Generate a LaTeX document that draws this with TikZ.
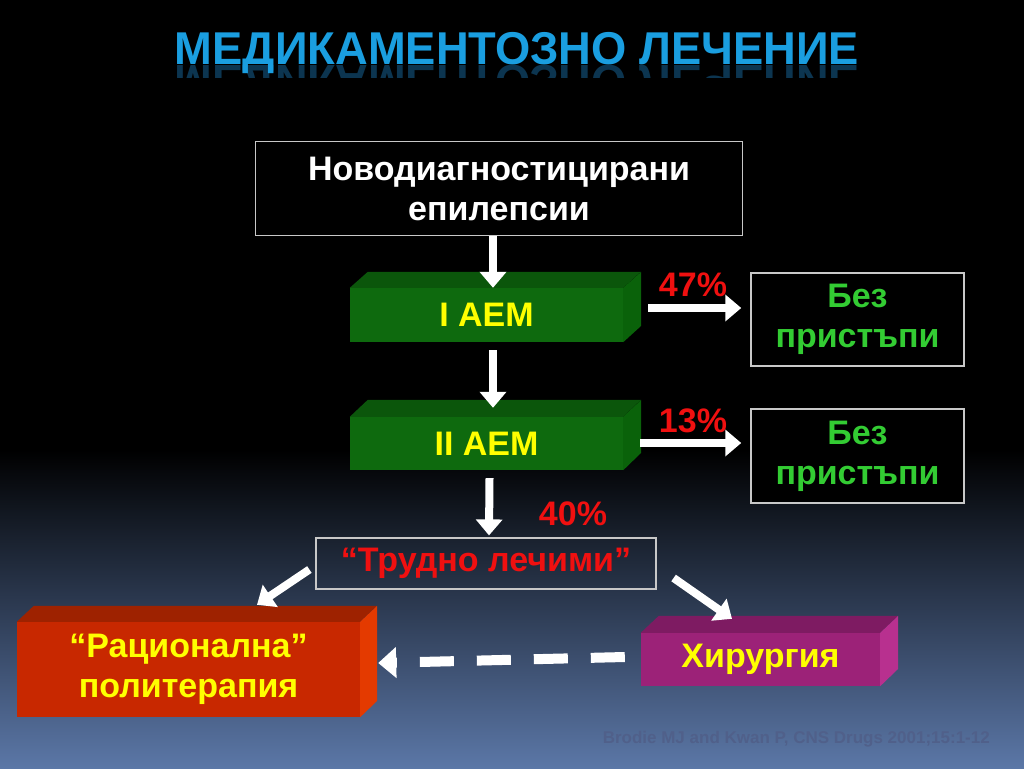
\documentclass[tikz,border=0pt]{standalone}
\usepackage{fontspec}
\setmainfont{Liberation Sans}
\newfontfamily\titlefont[FakeStretch=0.985]{Liberation Sans}
\usetikzlibrary{arrows.meta}
\definecolor{bgbot}{HTML}{5B77A7}
\definecolor{titleblue}{HTML}{1A9EE0}
\definecolor{reflblue}{HTML}{0C3550}
\definecolor{boxline}{HTML}{C8C8C8}
\definecolor{txtyellow}{HTML}{FFFF00}
\definecolor{txtgreen}{HTML}{33CC33}
\definecolor{txtred}{HTML}{F01010}
\definecolor{gfront}{HTML}{0E6A0E}
\definecolor{gtop}{HTML}{0B560B}
\definecolor{gside}{HTML}{0A620A}
\definecolor{rfront}{HTML}{C82800}
\definecolor{rtop}{HTML}{9E2200}
\definecolor{rside}{HTML}{E43A00}
\definecolor{pfront}{HTML}{9C2278}
\definecolor{ptop}{HTML}{7E1B62}
\definecolor{pside}{HTML}{B8308F}
\definecolor{citegray}{HTML}{50608A}
\tikzset{
  bigfont/.style={font=\bfseries\fontsize{34}{40}\selectfont},
  titlestyle/.style={font=\titlefont\bfseries\fontsize{46}{46}\selectfont, inner sep=0pt, anchor=base},
  txtbox/.style={draw=boxline, line width=1.5pt, fill=black, inner sep=0pt, align=center, bigfont},
  frontbox/.style={inner sep=0pt, align=center, bigfont, text=txtyellow},
  wa/.style={draw=white, line width=8pt, -{Triangle[width=26pt,length=16pt]}},
  pct/.style={text=txtred, bigfont, inner sep=0pt},
}
\begin{document}
\begin{tikzpicture}[x=1pt,y=-1pt]
\useasboundingbox (0,0) rectangle (1024,768);
\fill[black] (0,0) rectangle (1024,451);
\shade[top color=black, bottom color=bgbot] (0,450) rectangle (1024,768);

% title and its faint reflection
\begin{scope}
\clip (0,65) rectangle (1024,77);
\node[titlestyle, text=reflblue, yscale=-1] (titlerefl) at (517,66) {МЕДИКАМЕНТОЗНО ЛЕЧЕНИЕ};
\end{scope}
\node[titlestyle, text=titleblue] (title) at (517,64) {МЕДИКАМЕНТОЗНО ЛЕЧЕНИЕ};

% top box
\node[txtbox, text=white, minimum width=487pt, minimum height=94pt] (nd) at (499,188.5) {Новодиагностицирани\\епилепсии};

% green boxes
\node[frontbox, fill=gfront, minimum width=273pt, minimum height=54pt] (g1) at (486.5,315) {I AEM};
\fill[gtop] (g1.north west) -- ++(18,-16) -- ++(273,0) -- (g1.north east) -- cycle;
\fill[gside] (g1.north east) -- ++(18,-16) -- ++(0,54) -- (g1.south east) -- cycle;

\node[frontbox, fill=gfront, minimum width=273pt, minimum height=53pt] (g2) at (486.5,443.5) {II AEM};
\fill[gtop] (g2.north west) -- ++(18,-17) -- ++(273,0) -- (g2.north east) -- cycle;
\fill[gside] (g2.north east) -- ++(18,-17) -- ++(0,53) -- (g2.south east) -- cycle;

% right boxes
\node[txtbox, text=txtgreen, minimum width=213pt, minimum height=93pt] (bz1) at (857.5,319.5) {Без\\пристъпи};
\node[txtbox, text=txtgreen, minimum width=213pt, minimum height=94pt] (bz2) at (857.5,456) {Без\\пристъпи};

% difficult
\node[draw=boxline, line width=1.2pt, minimum width=340pt, minimum height=51pt, inner sep=0pt, text=txtred, bigfont] (tr) at (486,563.5) {“Трудно лечими”};

% red box
\node[frontbox, fill=rfront, minimum width=343pt, minimum height=95pt] (rp) at (188.5,669.5) {“Рационална”\\политерапия};
\fill[rtop] (rp.north west) -- ++(17,-16) -- ++(343,0) -- (rp.north east) -- cycle;
\fill[rside] (rp.north east) -- ++(17,-16) -- ++(0,95) -- (rp.south east) -- cycle;

% purple box
\node[frontbox, fill=pfront, minimum width=239pt, minimum height=53pt] (pu) at (760.5,659.5) {Хирургия};
\fill[ptop] (pu.north west) -- ++(18,-17) -- ++(239,0) -- (pu.north east) -- cycle;
\fill[pside] (pu.north east) -- ++(18,-17) -- ++(0,53) -- (pu.south east) -- cycle;

% percentages
\node[pct] (p47) at (693,285) {47\%};
\node[pct] (p13) at (693,421) {13\%};
\node[pct] (p40) at (573,514) {40\%};

% arrows
\draw[wa] ([xshift=-6pt]nd.south) -- ([xshift=6.5pt]g1.north);
\draw[wa] ([xshift=6.5pt,yshift=-8pt]g1.south) -- ([xshift=6.5pt,yshift=9pt]g2.north);
\draw[wa] ([xshift=3pt,yshift=-8pt]g2.south) -- ([xshift=3pt,yshift=2pt]tr.north);
\draw[wa] ([xshift=25pt,yshift=7pt]g1.east) -- ([xshift=-9pt,yshift=11.5pt]bz1.west);
\draw[wa] ([xshift=17pt,yshift=0.5pt]g2.east) -- ([xshift=-9pt,yshift=13pt]bz2.west);
\draw[wa] ([xshift=-6pt,yshift=-6pt]tr.west) -- ([xshift=68.5pt,yshift=17pt]rp.north);
\draw[wa] ([xshift=17pt,yshift=-14.5pt]tr.east) -- ([xshift=-28.5pt,yshift=14pt]pu.north);
\draw[wa, line width=10pt, dash pattern=on 34pt off 23pt, -{Triangle[width=30pt,length=18pt]}] ([xshift=-16pt,yshift=2.5pt]pu.west) -- ([xshift=18pt,yshift=6.5pt]rp.east);

% citation
\node[text=citegray, font=\bfseries\fontsize{17}{17}\selectfont, anchor=east, inner sep=0pt] (cite) at (990,739) {Brodie MJ and Kwan P, CNS Drugs 2001;15:1-12};
\end{tikzpicture}
\end{document}
